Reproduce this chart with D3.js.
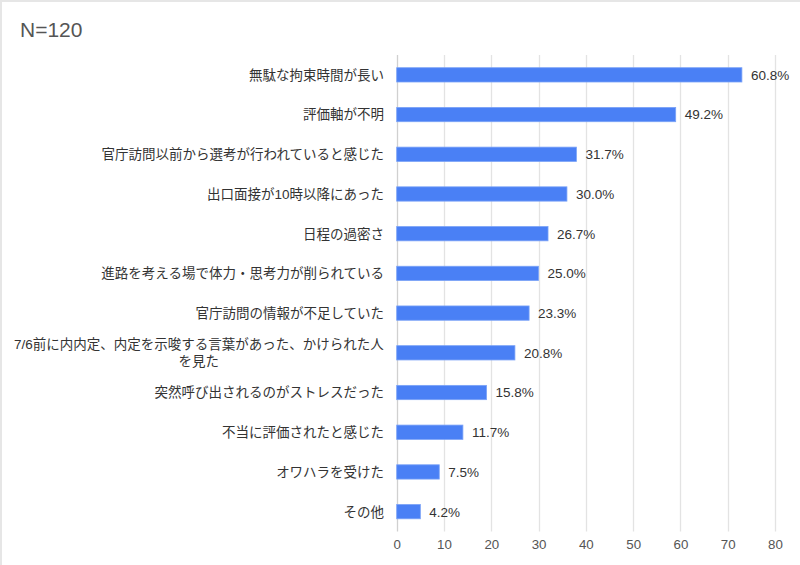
<!DOCTYPE html>
<html><head><meta charset="utf-8">
<script src="https://cdn.jsdelivr.net/npm/d3@7"></script>
<style>
html,body{margin:0;padding:0;background:#fff;}
svg{display:block;font-family:Arial,"Liberation Sans","Noto Sans CJK JP",sans-serif;}
</style></head><body>
<svg id="chart" width="800" height="565"></svg>
<script>
const title = "N=120";
const categories = [
  ["無駄な拘束時間が長い"],
  ["評価軸が不明"],
  ["官庁訪問以前から選考が行われていると感じた"],
  ["出口面接が10時以降にあった"],
  ["日程の過密さ"],
  ["進路を考える場で体力・思考力が削られている"],
  ["官庁訪問の情報が不足していた"],
  ["7/6前に内内定、内定を示唆する言葉があった、かけられた人", "を見た"],
  ["突然呼び出されるのがストレスだった"],
  ["不当に評価されたと感じた"],
  ["オワハラを受けた"],
  ["その他"]
];
const counts = [73, 59, 38, 36, 32, 30, 28, 25, 19, 14, 9, 5];
const percentLabels = ["60.8%", "49.2%", "31.7%", "30.0%", "26.7%", "25.0%", "23.3%", "20.8%", "15.8%", "11.7%", "7.5%", "4.2%"];
const xTicks = [0, 10, 20, 30, 40, 50, 60, 70, 80];

const svg = d3.select("#chart");
// frame
svg.append("rect").attr("x", 0).attr("y", 0).attr("width", 800).attr("height", 2).attr("fill", "#e6e6e6");
svg.append("rect").attr("x", 0).attr("y", 0).attr("width", 2).attr("height", 565).attr("fill", "#e6e6e6");

svg.append("text").attr("x", 20).attr("y", 37).attr("font-size", 21).attr("fill", "#555")
  .text(title);

const x = d3.scaleLinear().domain([0, 80]).range([396.7, 775]);
const idx = d3.range(categories.length);
const y = d3.scaleBand().domain(idx).range([55, 531.5]).paddingInner(0.64).paddingOuter(0.32);

// gridlines
svg.append("g").selectAll("line").data(xTicks).join("line")
  .attr("x1", d => Math.round(x(d)) + 0.5).attr("x2", d => Math.round(x(d)) + 0.5)
  .attr("y1", 55).attr("y2", 531.5)
  .attr("stroke", d => d === 0 ? "#d0d0d0" : "#e3e3e3").attr("stroke-width", 1.3);

// x axis labels
const xAxis = d3.axisBottom(x).tickValues(xTicks).tickSize(0).tickPadding(0);
const gx = svg.append("g").attr("transform", "translate(0,540)").call(xAxis);
gx.select(".domain").remove();
gx.selectAll("text").attr("font-size", 13.3).attr("fill", "#555").attr("dy", "0.71em")
  .attr("font-family", "Arial,'Liberation Sans',sans-serif");

// bars
svg.append("g").selectAll("rect").data(idx).join("rect")
  .attr("x", x(0)).attr("y", i => y(i))
  .attr("width", i => x(counts[i]) - x(0)).attr("height", y.bandwidth())
  .attr("fill", "#4a80f5").attr("stroke", "#7aa2f7").attr("stroke-width", 0.8);

// value labels
svg.append("g").selectAll("text").data(idx).join("text")
  .attr("x", i => x(counts[i]) + 9).attr("y", i => y(i) + y.bandwidth() / 2)
  .attr("dy", "0.36em").attr("font-size", 13.5).attr("fill", "#333")
  .text(i => percentLabels[i]);

// category labels
const cg = svg.append("g");
idx.forEach(i => {
  const lines = categories[i];
  const cy = y(i) + y.bandwidth() / 2;
  if (lines.length === 1) {
    cg.append("text").attr("x", 384).attr("y", cy).attr("dy", "0.36em")
      .attr("text-anchor", "end").attr("font-size", 13.5).attr("fill", "#333").text(lines[0]);
  } else {
    const t = cg.append("text").attr("font-size", 13.5).attr("fill", "#333").attr("text-anchor", "middle");
    lines.forEach((l, k) => {
      t.append("tspan").attr("x", 0).attr("y", cy + (k - (lines.length - 1) / 2) * 17).attr("dy", "0.36em").text(l);
    });
    const w = t.node().getBBox().width;
    t.selectAll("tspan").attr("x", 384 - w / 2);
  }
});
</script>
</body></html>
